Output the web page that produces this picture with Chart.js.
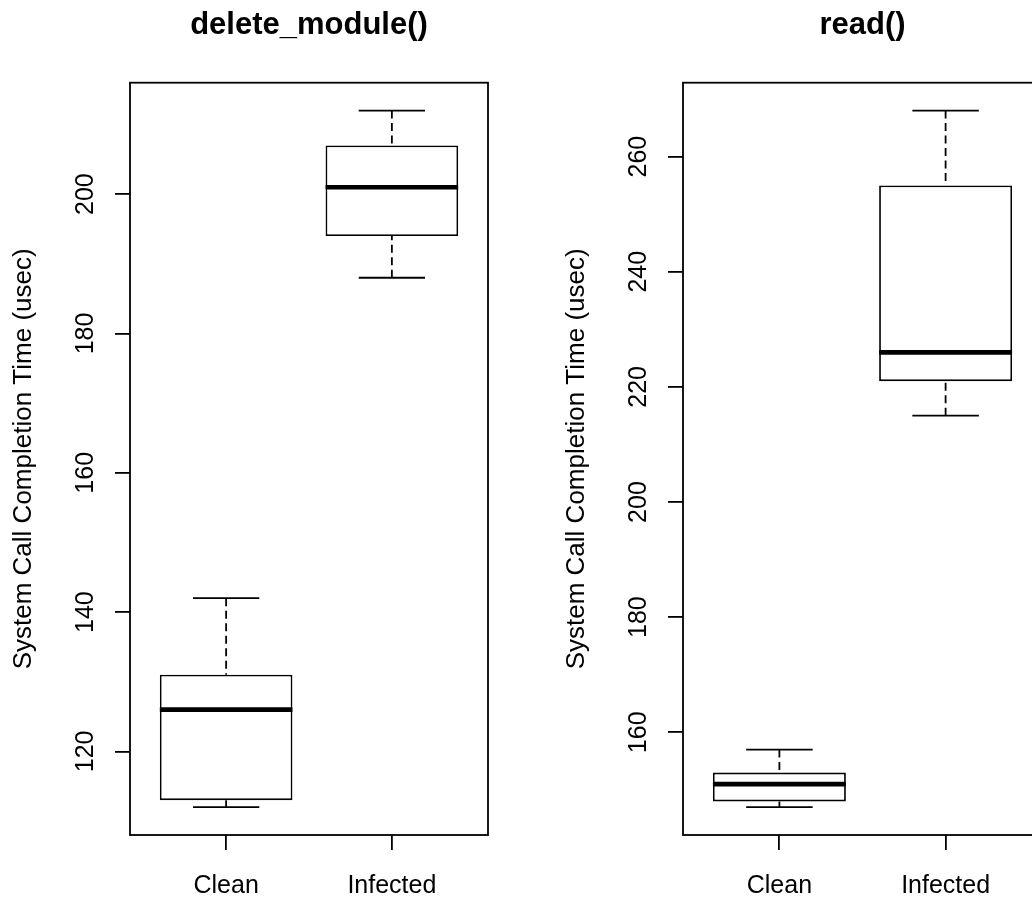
<!DOCTYPE html>
<html><head><meta charset="utf-8">
<script src="https://cdn.jsdelivr.net/npm/chart.js@4"></script>
<style>
html,body{margin:0;padding:0;background:#fff;overflow:hidden;width:1032px;height:903px;}
canvas{position:absolute;top:0;}
#c1{left:0;} #c2{left:553px;}
</style></head><body>
<canvas id="c1" width="553" height="903"></canvas>
<canvas id="c2" width="554" height="903"></canvas>
<script>
// ---- data ----
const categories = ['Clean', 'Infected'];
const yTitle = 'System Call Completion Time (usec)';

const delTitle = 'delete_module()';
const delMin = [112, 188];
const delQ1  = [113, 194];
const delMed = [126, 201];
const delQ3  = [131, 207];
const delMax = [142, 212];
const delTicks = [120, 140, 160, 180, 200];

const readTitle = 'read()';
const readMin = [147, 215];
const readQ1  = [148, 221];
const readMed = [151, 226];
const readQ3  = [153, 255];
const readMax = [157, 268];
const readTicks = [160, 180, 200, 220, 240, 260];

// ---- drawing ----
const FONT = "'Liberation Sans', Arial, Helvetica, sans-serif";
const LW = 1.8;

const boxExtras = {
  id: 'boxExtras',
  afterDatasetsDraw(chart, args, opts) {
    const ctx = chart.ctx;
    const y = chart.scales.y;
    const meta = chart.getDatasetMeta(0);
    ctx.save();
    ctx.strokeStyle = '#000';
    meta.data.forEach((bar, i) => {
      const x = bar.x, w = bar.width;
      const yMin = y.getPixelForValue(opts.min[i]);
      const yMax = y.getPixelForValue(opts.max[i]);
      const yQ1 = y.getPixelForValue(opts.q1[i]);
      const yQ3 = y.getPixelForValue(opts.q3[i]);
      const yMed = y.getPixelForValue(opts.med[i]);
      ctx.lineWidth = LW;
      ctx.setLineDash([8, 4.5]);
      ctx.beginPath();
      ctx.moveTo(x, yMax); ctx.lineTo(x, yQ3);
      ctx.moveTo(x, yMin); ctx.lineTo(x, yQ1);
      ctx.stroke();
      ctx.setLineDash([]);
      ctx.beginPath();
      ctx.moveTo(x - w / 4, yMax); ctx.lineTo(x + w / 4, yMax);
      ctx.moveTo(x - w / 4, yMin); ctx.lineTo(x + w / 4, yMin);
      ctx.stroke();
      ctx.lineWidth = 4.6;
      ctx.lineCap = 'butt';
      ctx.beginPath();
      ctx.moveTo(x - w / 2, yMed); ctx.lineTo(x + w / 2, yMed);
      ctx.stroke();
    });
    ctx.restore();
  },
  afterDraw(chart, args, opts) {
    const a = chart.chartArea, ctx = chart.ctx;
    ctx.save();
    ctx.strokeStyle = '#000';
    ctx.lineWidth = LW;
    ctx.strokeRect(a.left, a.top, a.right - a.left, a.bottom - a.top);
    ctx.fillStyle = '#000';
    ctx.font = "bold 31px " + FONT;
    ctx.textAlign = 'center';
    ctx.textBaseline = 'alphabetic';
    ctx.fillText(opts.title, (a.left + a.right) / 2, 34);
    ctx.restore();
  }
};

function makeChart(id, title, mins, q1, med, q3, maxs, ticks) {
  const lo = Math.min(...mins), hi = Math.max(...maxs);
  const pad = (hi - lo) * 0.04;
  const n = categories.length;
  const xpad = n * 0.04;
  new Chart(document.getElementById(id), {
    type: 'bar',
    data: {
      datasets: [{
        data: categories.map((c, i) => ({ x: i + 1, y: [q1[i], q3[i]] })),
        backgroundColor: '#fff',
        borderColor: '#000',
        borderWidth: LW,
        borderSkipped: false,
        barPercentage: 0.8,
        categoryPercentage: 1.0
      }]
    },
    options: {
      responsive: false,
      animation: false,
      devicePixelRatio: 1,
      layout: { padding: { left: 0, right: 65, top: 82.7, bottom: 0 } },
      plugins: {
        legend: { display: false },
        tooltip: { enabled: false },
        title: { display: false },
        boxExtras: { min: mins, q1: q1, med: med, q3: q3, max: maxs, title: title }
      },
      scales: {
        x: {
          type: 'linear',
          offset: false,
          min: 0.5 - xpad, max: n + 0.5 + xpad,
          bounds: 'data',
          afterBuildTicks: s => { s.ticks = categories.map((c, i) => ({ value: i + 1 })); },
          afterFit: s => { s.height = 68; },
          grid: { offset: false, drawOnChartArea: false, drawTicks: true, tickLength: 15, color: '#000', lineWidth: LW },
          border: { display: false },
          ticks: {
            color: '#000', font: { family: FONT, size: 25 }, padding: 21,
            maxRotation: 0, minRotation: 0, autoSkip: false,
            callback: v => categories[Math.round(v) - 1] || ''
          }
        },
        y: {
          type: 'linear',
          min: lo - pad, max: hi + pad,
          bounds: 'data',
          afterBuildTicks: s => { s.ticks = ticks.map(v => ({ value: v })); },
          afterFit: s => { s.width = 130; },
          grid: { drawOnChartArea: false, drawTicks: true, tickLength: 15, color: '#000', lineWidth: LW },
          border: { display: false },
          title: {
            display: true, text: yTitle, color: '#000',
            font: { family: FONT, size: 26 }, padding: { top: 8, bottom: 0 }
          },
          ticks: {
            color: '#000', font: { family: FONT, size: 25 },
            minRotation: 90, maxRotation: 90, crossAlign: 'center', padding: 8
          }
        }
      }
    },
    plugins: [boxExtras]
  });
}

makeChart('c1', delTitle, delMin, delQ1, delMed, delQ3, delMax, delTicks);
makeChart('c2', readTitle, readMin, readQ1, readMed, readQ3, readMax, readTicks);
</script>
</body></html>
